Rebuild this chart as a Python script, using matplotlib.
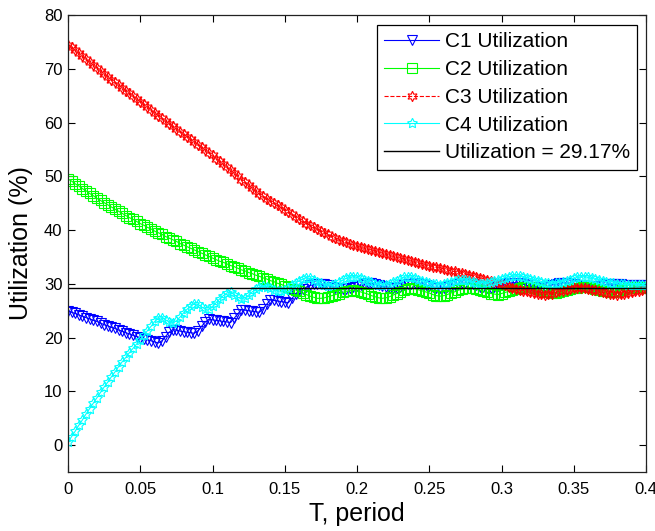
import numpy as np
import matplotlib
matplotlib.use("Agg")
import matplotlib.pyplot as plt

plt.rcParams['font.family'] = ['Liberation Sans', 'DejaVu Sans']

# Period T, sampled every 0.0025 from 0 to 0.4
period = [round(0.0025 * i, 4) for i in range(161)]

c1_util = [25.0, 24.7, 24.5, 24.2, 24.0, 23.7, 23.5, 23.2, 23.0, 22.7,
           22.4, 22.2, 21.9, 21.7, 21.4, 21.2, 20.9, 20.7, 20.4, 20.2,
           20.0, 19.8, 19.6, 19.4, 19.2, 19.0, 19.4, 20.2, 21.0, 21.5,
           21.4, 21.2, 21.1, 21.0, 20.9, 20.8, 21.3, 22.1, 22.9, 23.4,
           23.3, 23.2, 23.1, 23.0, 22.9, 22.8, 23.6, 24.4, 25.2, 25.1,
           25.0, 24.9, 24.8, 24.7, 25.4, 26.2, 27.0, 26.9, 26.8, 26.7,
           26.6, 26.5, 27.3, 28.1, 28.8, 29.1, 29.4, 29.7, 29.9, 30.0,
           30.0, 29.9, 29.7, 29.5, 29.3, 29.2, 29.1, 29.1, 29.2, 29.4,
           29.6, 29.8, 30.0, 30.1, 30.1, 30.0, 29.8, 29.6, 29.4, 29.3,
           29.2, 29.3, 29.5, 29.7, 29.9, 30.0, 30.1, 30.1, 30.0, 29.8,
           29.6, 29.4, 29.3, 29.3, 29.3, 29.4, 29.6, 29.8, 30.0, 30.1,
           30.1, 30.0, 29.9, 29.7, 29.5, 29.4, 29.3, 29.3, 29.4, 29.6,
           29.8, 30.0, 30.1, 30.2, 30.2, 30.1, 29.9, 29.7, 29.5, 29.4,
           29.3, 29.3, 29.4, 29.6, 29.8, 30.0, 30.1, 30.2, 30.2, 30.1,
           29.9, 29.7, 29.6, 29.5, 29.4, 29.4, 29.5, 29.6, 29.7, 29.9,
           30.0, 30.0, 29.9, 29.9, 29.8, 29.8, 29.7, 29.7, 29.7, 29.7,
           29.7]

c2_util = [49.5, 49.1, 48.6, 48.2, 47.7, 47.3, 46.8, 46.4, 45.9, 45.5,
           45.1, 44.7, 44.3, 43.9, 43.5, 43.1, 42.7, 42.3, 42.0, 41.6,
           41.2, 40.9, 40.5, 40.2, 39.8, 39.5, 39.2, 38.8, 38.5, 38.2,
           37.9, 37.5, 37.2, 36.9, 36.6, 36.3, 36.0, 35.7, 35.4, 35.1,
           34.8, 34.5, 34.2, 34.0, 33.7, 33.4, 33.2, 32.9, 32.6, 32.4,
           32.1, 31.9, 31.6, 31.4, 31.1, 30.9, 30.6, 30.4, 30.1, 29.9,
           29.6, 29.4, 29.1, 28.9, 28.6, 28.3, 28.0, 27.7, 27.5, 27.3,
           27.3, 27.4, 27.6, 27.8, 28.0, 28.2, 28.4, 28.6, 28.7, 28.8,
           28.7, 28.5, 28.3, 28.1, 27.8, 27.6, 27.4, 27.3, 27.4, 27.6,
           27.9, 28.2, 28.5, 28.8, 29.1, 29.2, 29.1, 28.9, 28.7, 28.5,
           28.3, 28.0, 27.8, 27.7, 27.8, 28.0, 28.3, 28.5, 28.8, 29.0,
           29.2, 29.3, 29.2, 29.0, 28.8, 28.6, 28.4, 28.2, 28.1, 28.0,
           28.2, 28.4, 28.6, 28.8, 29.0, 29.2, 29.4, 29.5, 29.4, 29.2,
           29.0, 28.8, 28.6, 28.5, 28.3, 28.3, 28.4, 28.6, 28.8, 29.0,
           29.2, 29.3, 29.5, 29.5, 29.4, 29.2, 29.0, 28.9, 28.7, 28.6,
           28.5, 28.5, 28.7, 28.9, 29.0, 29.2, 29.3, 29.4, 29.5, 29.4,
           29.3]

c3_util = [74.5, 74.0, 73.4, 72.9, 72.3, 71.8, 71.2, 70.7, 70.2, 69.6,
           69.1, 68.5, 68.0, 67.5, 67.0, 66.5, 65.9, 65.4, 64.9, 64.4,
           63.9, 63.4, 62.9, 62.3, 61.8, 61.3, 60.8, 60.3, 59.8, 59.3,
           58.8, 58.3, 57.8, 57.4, 56.9, 56.4, 55.9, 55.4, 54.9, 54.4,
           53.9, 53.3, 52.8, 52.2, 51.7, 51.1, 50.6, 50.0, 49.4, 48.9,
           48.3, 47.8, 47.2, 46.7, 46.3, 45.8, 45.4, 45.0, 44.6, 44.2,
           43.8, 43.3, 42.9, 42.5, 42.1, 41.7, 41.2, 40.9, 40.5, 40.2,
           39.8, 39.5, 39.2, 38.8, 38.5, 38.2, 37.9, 37.7, 37.4, 37.2,
           37.0, 36.8, 36.6, 36.4, 36.3, 36.1, 35.9, 35.7, 35.5, 35.3,
           35.1, 34.9, 34.8, 34.6, 34.4, 34.2, 34.0, 33.8, 33.7, 33.5,
           33.4, 33.2, 33.1, 32.9, 32.8, 32.6, 32.4, 32.3, 32.1, 32.0,
           31.8, 31.7, 31.5, 31.3, 31.1, 30.9, 30.7, 30.6, 30.4, 30.2,
           30.0, 29.8, 29.5, 29.3, 29.1, 28.9, 28.7, 28.6, 28.4, 28.3,
           28.1, 28.1, 28.0, 28.1, 28.2, 28.4, 28.6, 28.7, 28.9, 29.1,
           29.2, 29.3, 29.3, 29.2, 29.1, 28.9, 28.8, 28.6, 28.4, 28.3,
           28.1, 28.1, 28.0, 28.1, 28.2, 28.3, 28.5, 28.6, 28.7, 28.9,
           29.0]

c4_util = [0.5, 1.6, 2.6, 3.7, 4.7, 5.8, 6.8, 7.8, 8.8, 9.8,
           10.8, 11.7, 12.7, 13.6, 14.6, 15.5, 16.3, 17.2, 18.0, 18.8,
           19.6, 20.4, 21.3, 22.1, 23.0, 23.6, 23.7, 23.3, 22.9, 22.7,
           23.1, 23.8, 24.6, 25.3, 25.9, 26.3, 26.2, 25.7, 25.3, 25.3,
           25.8, 26.5, 27.2, 27.8, 28.3, 28.4, 28.0, 27.5, 27.2, 27.4,
           27.9, 28.5, 29.0, 29.4, 29.6, 29.5, 29.2, 28.9, 28.7, 28.6,
           28.8, 29.2, 29.7, 30.2, 30.6, 30.9, 31.1, 31.0, 30.7, 30.4,
           30.1, 29.8, 29.6, 29.7, 29.9, 30.3, 30.7, 31.0, 31.2, 31.3,
           31.2, 31.0, 30.8, 30.5, 30.3, 30.0, 29.8, 29.7, 29.8, 30.0,
           30.3, 30.6, 30.9, 31.2, 31.3, 31.2, 31.0, 30.8, 30.6, 30.4,
           30.2, 30.0, 29.9, 29.8, 29.9, 30.1, 30.3, 30.5, 30.7, 30.8,
           30.7, 30.5, 30.3, 30.1, 30.0, 30.0, 30.1, 30.3, 30.5, 30.7,
           30.9, 31.1, 31.3, 31.4, 31.5, 31.4, 31.3, 31.1, 30.9, 30.7,
           30.5, 30.3, 30.2, 30.1, 30.0, 30.1, 30.2, 30.4, 30.6, 30.8,
           31.0, 31.2, 31.3, 31.3, 31.2, 31.0, 30.9, 30.7, 30.5, 30.4,
           30.2, 30.1, 30.0, 29.9, 29.9, 29.8, 29.8, 29.8, 29.7, 29.7,
           29.7]

target_util = 29.17

series_labels = ['C1 Utilization', 'C2 Utilization', 'C3 Utilization',
                 'C4 Utilization']
x_ticks = [0, 0.05, 0.1, 0.15, 0.2, 0.25, 0.3, 0.35, 0.4]
x_tick_labels = ['0', '0.05', '0.1', '0.15', '0.2', '0.25', '0.3', '0.35', '0.4']
y_ticks = [0, 10, 20, 30, 40, 50, 60, 70, 80]

fig = plt.figure(figsize=(6.55, 5.31), dpi=100)
ax = fig.add_axes([68/655, 59/531, 578/655, 457/531])

lw = 0.8
mew = 0.8
ax.plot(period, c1_util, color='#0000FF', linestyle='-', lw=lw, marker='v',
        ms=6.5, mfc='none', mew=mew, label=series_labels[0])
ax.plot(period, c2_util, color='#00FF00', linestyle='-', lw=lw, marker='s',
        ms=6.5, mfc='none', mew=mew, label=series_labels[1])
ax.plot(period, c3_util, color='#FF0000', linestyle='--', lw=lw, marker=(6, 1, 0),
        ms=7.5, mfc='none', mew=mew, label=series_labels[2])
ax.plot(period, c4_util, color='#00FFFF', linestyle='-', lw=lw, marker=(5, 1, 0),
        ms=7.5, mfc='none', mew=mew, label=series_labels[3])
ax.axhline(target_util, color='black', lw=1.0,
           label='Utilization = %.2f%%' % target_util)

ax.set_xlim(0, 0.4)
ax.set_ylim(-5, 80)
ax.set_xticks(x_ticks)
ax.set_xticklabels(x_tick_labels)
ax.set_yticks(y_ticks)
ax.tick_params(direction='in', top=True, right=True, length=5, width=0.8,
               labelsize=12)
ax.tick_params(axis='x', pad=7)
ax.tick_params(axis='y', pad=4)
for s in ax.spines.values():
    s.set_linewidth(0.9)
    s.set_color('#222222')

ax.set_xlabel('T, period', fontsize=18, labelpad=4)
ax.set_ylabel('Utilization (%)', fontsize=18, labelpad=8)

leg = ax.legend(loc='upper right', bbox_to_anchor=(0.985, 0.978), fontsize=15,
                frameon=True, fancybox=False, framealpha=1, edgecolor='black',
                borderpad=0.35, labelspacing=0.42, handlelength=2.6,
                handletextpad=0.3, borderaxespad=0)
leg.get_frame().set_linewidth(0.9)

fig.savefig('out.png', dpi=100)
